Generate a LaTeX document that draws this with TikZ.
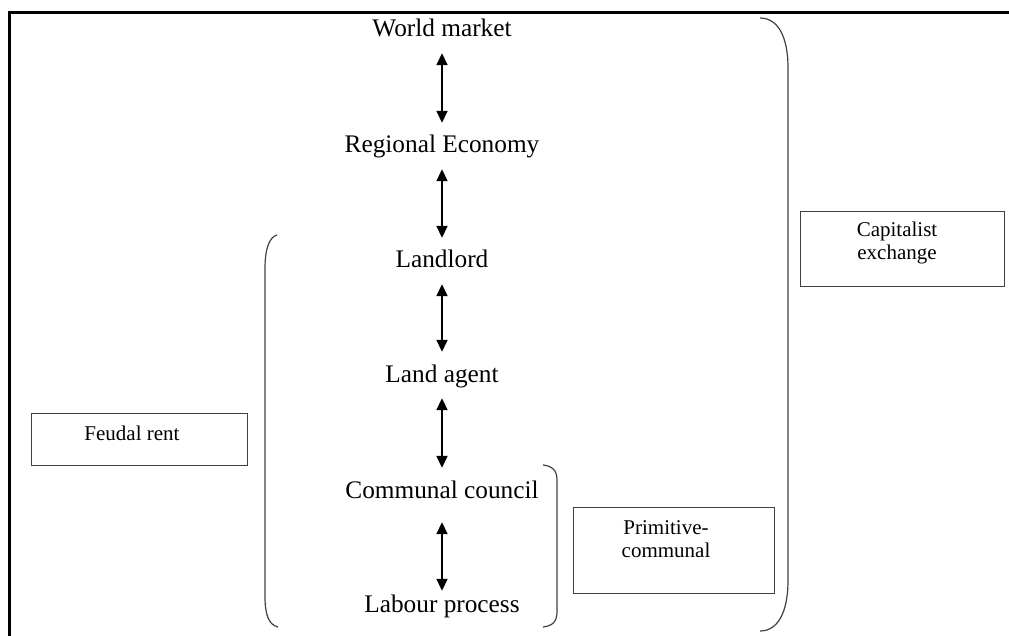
\documentclass[tikz,border=0pt]{standalone}
\usepackage{fontspec}
\setmainfont{Liberation Serif}
\usetikzlibrary{arrows.meta}

\tikzset{
	level/.style={font=\fontsize{25.3}{30}\selectfont, text height=20pt, text depth=6pt, inner sep=10pt, anchor=base},
	twoway/.style={line width=1.8pt, {Triangle[length=12pt,width=11pt]}-{Triangle[length=12pt,width=11pt]}},
	bracket/.style={line width=1.2pt, draw=black!75},
	tagbox/.style={shape=rectangle, draw=black!75, line width=1.2pt, anchor=north west},
	tagtext/.style={font=\fontsize{21}{23}\selectfont, align=center, inner sep=0pt, anchor=base}
}

\begin{document}
\begin{tikzpicture}[x=1pt, y=-1pt]
	\useasboundingbox (0, 0) rectangle (1009, 636);
	\draw[line width=2.2pt] (9.5, 636) -- (9.5, 12.5) -- (1009, 12.5);

	\node[level] (world)    at (442, 37)  {World market};
	\node[level] (regional) at (442, 153) {Regional Economy};
	\node[level] (landlord) at (442, 268) {Landlord};
	\node[level] (agent)    at (442, 382) {Land agent};
	\node[level] (council)  at (442, 498) {Communal council};
	\node[level] (labour)   at (442, 612) {Labour process};

	\draw[twoway] (world)    -- (regional);
	\draw[twoway] (regional) -- (landlord);
	\draw[twoway] (landlord) -- (agent);
	\draw[twoway] (agent)    -- (council);
	\draw[twoway, shorten <=8pt, shorten >=-9pt] (council) -- (labour);

	% brackets
	\draw[bracket] (760, 18) .. controls (777, 18) and (788, 35) .. (788, 68)
		-- (788, 580) .. controls (788, 614) and (777, 631) .. (760, 631);
	\draw[bracket] (277, 235) .. controls (269, 237) and (265, 250) .. (265, 268)
		-- (265, 597) .. controls (265, 615) and (269, 625) .. (278, 627);
	\draw[bracket] (543, 465) .. controls (552, 466) and (557, 470) .. (557, 480)
		-- (557, 612) .. controls (557, 622) and (552, 626) .. (543, 627);

	\node[tagbox, minimum width=216pt, minimum height=52pt]
		(feudalbox) at (31, 413) {};
	\node[tagbox, minimum width=204pt, minimum height=75pt]
		(capitalbox) at (800, 211) {};
	\node[tagbox, minimum width=201pt, minimum height=86pt]
		(primitivebox) at (573, 507) {};

	\node[tagtext] (feudal)    at (132, 440) {Feudal rent};
	\node[tagtext] (capital)   at (897, 260) {Capitalist\\exchange};
	\node[tagtext] (primitive) at (666, 557) {Primitive-\\communal};
\end{tikzpicture}
\end{document}
